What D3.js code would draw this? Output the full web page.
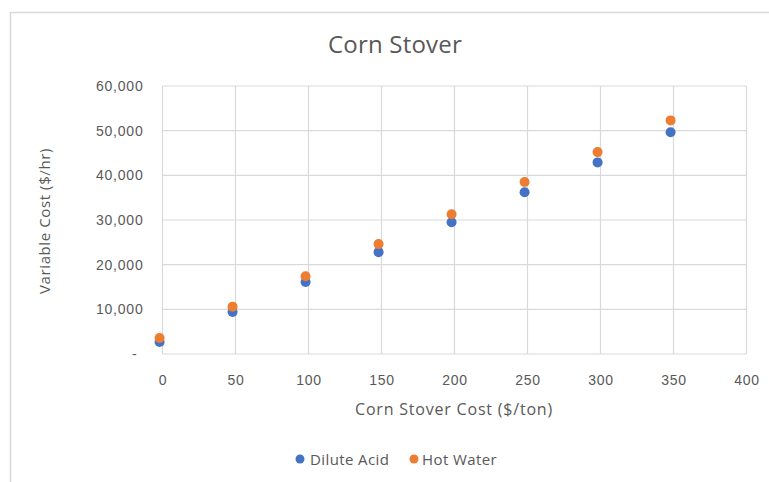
<!DOCTYPE html>
<html>
<head>
<meta charset="utf-8">
<script src="https://cdn.jsdelivr.net/npm/d3@7"></script>
<style>
  body { margin: 0; background: #fff; }
  svg { display: block; font-family: "Open Sans", "Noto Sans", sans-serif; }
</style>
</head>
<body>
<svg id="chart" width="769" height="482"></svg>
<script>
// ---- data ----
const chartTitle = "Corn Stover";
const xTitle = "Corn Stover Cost ($/ton)";
const yTitle = "Variable Cost ($/hr)";
const xValues = [-2, 48, 98, 148, 198, 248, 298, 348];
const diluteAcid = [2700, 9400, 16100, 22800, 29500, 36200, 42900, 49650];
const hotWater   = [3600, 10600, 17400, 24600, 31300, 38500, 45200, 52300];
const seriesNames = ["Dilute Acid", "Hot Water"];
const seriesColors = ["#4472C4", "#ED7D31"];
const xTicks = [0, 50, 100, 150, 200, 250, 300, 350, 400];
const yTicks = [0, 10000, 20000, 30000, 40000, 50000, 60000];

const svg = d3.select("#chart");
const textColor = "#595959";

// chart frame
svg.append("rect")
  .attr("x", 10.5).attr("y", 12.5)
  .attr("width", 780).attr("height", 500)
  .attr("fill", "#fff").attr("stroke", "#d9d9d9").attr("stroke-width", 1.5);

const plot = { left: 162.5, right: 746.5, top: 86, bottom: 354 };

const x = d3.scaleLinear().domain([0, 400]).range([plot.left, plot.right]);
const y = d3.scaleLinear().domain([0, 60000]).range([plot.bottom, plot.top]);

// gridlines
const grid = svg.append("g");
grid.selectAll("line.v").data(xTicks).join("line")
  .attr("x1", d => x(d)).attr("x2", d => x(d))
  .attr("y1", plot.top).attr("y2", plot.bottom)
  .attr("stroke", "#d9d9d9").attr("stroke-width", 1.2);
grid.selectAll("line.h").data(yTicks).join("line")
  .attr("x1", plot.left).attr("x2", plot.right)
  .attr("y1", d => y(d)).attr("y2", d => y(d))
  .attr("stroke", "#d9d9d9").attr("stroke-width", 1.2);

// axes via d3 axis generators (labels only)
const fmt = d => d === 0 ? "-" : d3.format(",")(d);
const yAxis = svg.append("g")
  .attr("transform", `translate(${plot.left - 19},0)`)
  .call(d3.axisLeft(y).tickValues(yTicks).tickFormat(fmt).tickSize(0).tickPadding(0));
yAxis.select(".domain").remove();
yAxis.selectAll("text")
  .attr("fill", textColor).style("font-size", "14px").style("letter-spacing", "0.8px")
  .attr("dx", d => d === 0 ? -6 : 0);

const xAxis = svg.append("g")
  .attr("transform", `translate(0,${plot.bottom + 21})`)
  .call(d3.axisBottom(x).tickValues(xTicks).tickFormat(d3.format("d")).tickSize(0).tickPadding(0));
xAxis.select(".domain").remove();
xAxis.selectAll("text").attr("fill", textColor)
  .style("font-size", "14px").style("letter-spacing", "0.8px");

// titles
svg.append("text")
  .attr("x", 395).attr("y", 53)
  .attr("text-anchor", "middle")
  .attr("fill", textColor).style("font-size", "24px").style("letter-spacing", "0.2px")
  .text(chartTitle);

svg.append("text")
  .attr("x", 454).attr("y", 415)
  .attr("text-anchor", "middle")
  .attr("fill", textColor).style("font-size", "16px").style("letter-spacing", "0.8px")
  .text(xTitle);

svg.append("text")
  .attr("transform", `translate(50,221) rotate(-90)`)
  .attr("text-anchor", "middle")
  .attr("fill", textColor).style("font-size", "15px").style("letter-spacing", "0.6px")
  .text(yTitle);

// points
const series = [diluteAcid, hotWater];
series.forEach((vals, i) => {
  svg.append("g").selectAll("circle")
    .data(vals.map((v, j) => ({ x: xValues[j], y: v })))
    .join("circle")
    .attr("cx", d => x(d.x)).attr("cy", d => y(d.y))
    .attr("r", 5)
    .attr("fill", seriesColors[i]);
});

// legend
const legendItems = [{ dx: 300, tx: 310 }, { dx: 414, tx: 422 }];
const lg = svg.append("g");
seriesNames.forEach((name, i) => {
  lg.append("circle")
    .attr("cx", legendItems[i].dx).attr("cy", 459).attr("r", 4.5)
    .attr("fill", seriesColors[i]);
  lg.append("text")
    .attr("x", legendItems[i].tx).attr("y", 464.5)
    .attr("fill", textColor).style("font-size", "15px").style("letter-spacing", "0.4px")
    .text(name);
});
</script>
</body>
</html>
